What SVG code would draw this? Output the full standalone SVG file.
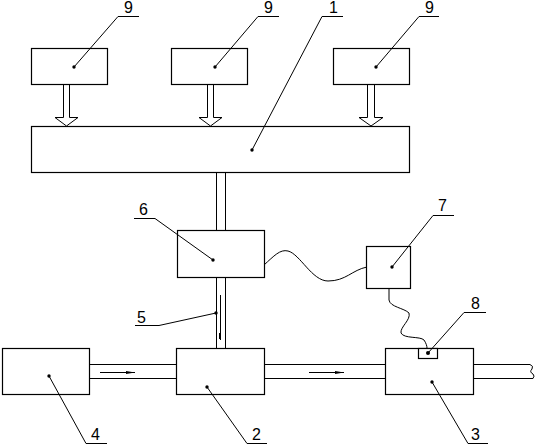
<svg xmlns="http://www.w3.org/2000/svg" width="536" height="448" viewBox="0 0 536 448">
<style>
.box{fill:#fff;stroke:#000;stroke-width:1.2}
.ln{fill:none;stroke:#000;stroke-width:1}
.har{fill:#fff;stroke:#000;stroke-width:1}
.dot{fill:#000}
.lbl{font-family:"Liberation Sans",Arial,sans-serif;font-size:16px;fill:#000}
</style>
<rect width="536" height="448" fill="#fff"/>
<g id="connectors">
  <!-- hollow arrows from 9 to 1 -->
  <polygon class="har" points="63.5,84 63.5,117.5 55,117.5 66.5,126 78,117.5 69.5,117.5 69.5,84"/>
  <polygon class="har" points="207.5,84 207.5,117.5 199,117.5 210.5,126 222,117.5 213.5,117.5 213.5,84"/>
  <polygon class="har" points="367.5,84 367.5,117.5 359,117.5 371,126 383,117.5 374.5,117.5 374.5,84"/>
  <!-- double line 1 to 6 -->
  <line class="ln" x1="216.5" y1="172" x2="216.5" y2="230"/>
  <line class="ln" x1="225.5" y1="172" x2="225.5" y2="230"/>
  <!-- double line 6 to 2 (5) -->
  <line class="ln" x1="216.5" y1="277" x2="216.5" y2="348"/>
  <line class="ln" x1="225.5" y1="277" x2="225.5" y2="348"/>
  <line class="ln" x1="220.5" y1="295" x2="220.5" y2="340"/>
  <line x1="220" y1="333" x2="220" y2="339" stroke="#000" stroke-width="2"/>
  <!-- pipe 4 to 2 -->
  <line class="ln" x1="89" y1="364.5" x2="176" y2="364.5"/>
  <line class="ln" x1="89" y1="378.5" x2="176" y2="378.5"/>
  <line class="ln" x1="100" y1="372.5" x2="135" y2="372.5"/>
  <polygon points="126,371 135,372.5 126,374" fill="#000"/>
  <!-- pipe 2 to 3 -->
  <line class="ln" x1="264" y1="364.5" x2="385" y2="364.5"/>
  <line class="ln" x1="264" y1="378.5" x2="385" y2="378.5"/>
  <line class="ln" x1="309" y1="372.5" x2="344" y2="372.5"/>
  <polygon points="335,371 344,372.5 335,374" fill="#000"/>
  <!-- pipe out of 3 -->
  <line class="ln" x1="473" y1="364.5" x2="530" y2="364.5"/>
  <line class="ln" x1="473" y1="378.5" x2="533" y2="378.5"/>
  <path class="ln" d="M530,364.5 Q534,366 532,369 Q529,372 533,374 Q535,376 533,378.5"/>
  <line x1="473" y1="364" x2="473" y2="379" stroke="#000" stroke-width="2"/>
  <!-- wavy 6 to 7 -->
  <path class="ln" d="M264,265 C274,256 280,249 288,251 C300,254 312,281 328,281 C346,281 352,270 367,267"/>
  <!-- wavy 7 to 8 -->
  <path class="ln" d="M389,288 L389,300 C390,307 404,308 409,313 C411,320 400,327 401,333 C404,339 420,336 424,340 C426,343 427,346 427,348"/>
</g>
<g id="node-9a"><rect class="box" x="31.5" y="48.5" width="76" height="36"/></g>
<g id="node-9b"><rect class="box" x="171.5" y="48.5" width="76" height="36"/></g>
<g id="node-9c"><rect class="box" x="333.5" y="48.5" width="76" height="36"/></g>
<g id="node-1"><rect class="box" x="31.5" y="126.5" width="378" height="46"/></g>
<g id="node-6"><rect class="box" x="177.5" y="230.5" width="87" height="47"/></g>
<g id="node-7"><rect class="box" x="366.5" y="246.5" width="44" height="42"/></g>
<g id="node-4"><rect class="box" x="2.5" y="348.5" width="87" height="46"/></g>
<g id="node-2"><rect class="box" x="176.5" y="348.5" width="88" height="46"/></g>
<g id="node-3"><rect class="box" x="385.5" y="348.5" width="88" height="46"/></g>
<g id="node-8"><rect class="box" x="418.5" y="348.5" width="19" height="10"/></g>
<g id="labels">
  <!-- 9 a -->
  <polyline class="ln" points="74,67 118,16.5 139,16.5"/><circle class="dot" cx="74" cy="67" r="1.7"/>
  <text class="lbl" x="124" y="13">9</text>
  <!-- 9 b -->
  <polyline class="ln" points="215,67 258,16.5 279,16.5"/><circle class="dot" cx="215" cy="67" r="1.7"/>
  <text class="lbl" x="264" y="13">9</text>
  <!-- 9 c -->
  <polyline class="ln" points="376,67 419,16.5 439,16.5"/><circle class="dot" cx="376" cy="67" r="1.7"/>
  <text class="lbl" x="425" y="13">9</text>
  <!-- 1 -->
  <polyline class="ln" points="252,150 322,16.5 343,16.5"/><circle class="dot" cx="252" cy="150" r="1.7"/>
  <text class="lbl" x="329" y="13">1</text>
  <!-- 6 -->
  <polyline class="ln" points="213,260 155,218.5 134,218.5"/><circle class="dot" cx="213" cy="260" r="1.7"/>
  <text class="lbl" x="139" y="215">6</text>
  <!-- 7 -->
  <polyline class="ln" points="392,267 433,215.5 454,215.5"/><circle class="dot" cx="392" cy="267" r="1.7"/>
  <text class="lbl" x="438" y="211">7</text>
  <!-- 5 -->
  <polyline class="ln" points="216,313 159,325.5 135,325.5"/><circle class="dot" cx="216" cy="313" r="1.7"/>
  <text class="lbl" x="137" y="323">5</text>
  <!-- 8 -->
  <polyline class="ln" points="428,353 464,312.5 486,312.5"/><circle class="dot" cx="428" cy="353" r="2"/>
  <text class="lbl" x="471" y="309">8</text>
  <!-- 4 -->
  <polyline class="ln" points="49,376 86,443.5 107,443.5"/><circle class="dot" cx="49" cy="376" r="1.7"/>
  <text class="lbl" x="91" y="440">4</text>
  <!-- 2 -->
  <polyline class="ln" points="207,387 247,443.5 267,443.5"/><circle class="dot" cx="207" cy="387" r="1.7"/>
  <text class="lbl" x="252" y="440">2</text>
  <!-- 3 -->
  <polyline class="ln" points="432,382 468,443.5 488,443.5"/><circle class="dot" cx="432" cy="382" r="1.7"/>
  <text class="lbl" x="471" y="440">3</text>
</g>
</svg>
